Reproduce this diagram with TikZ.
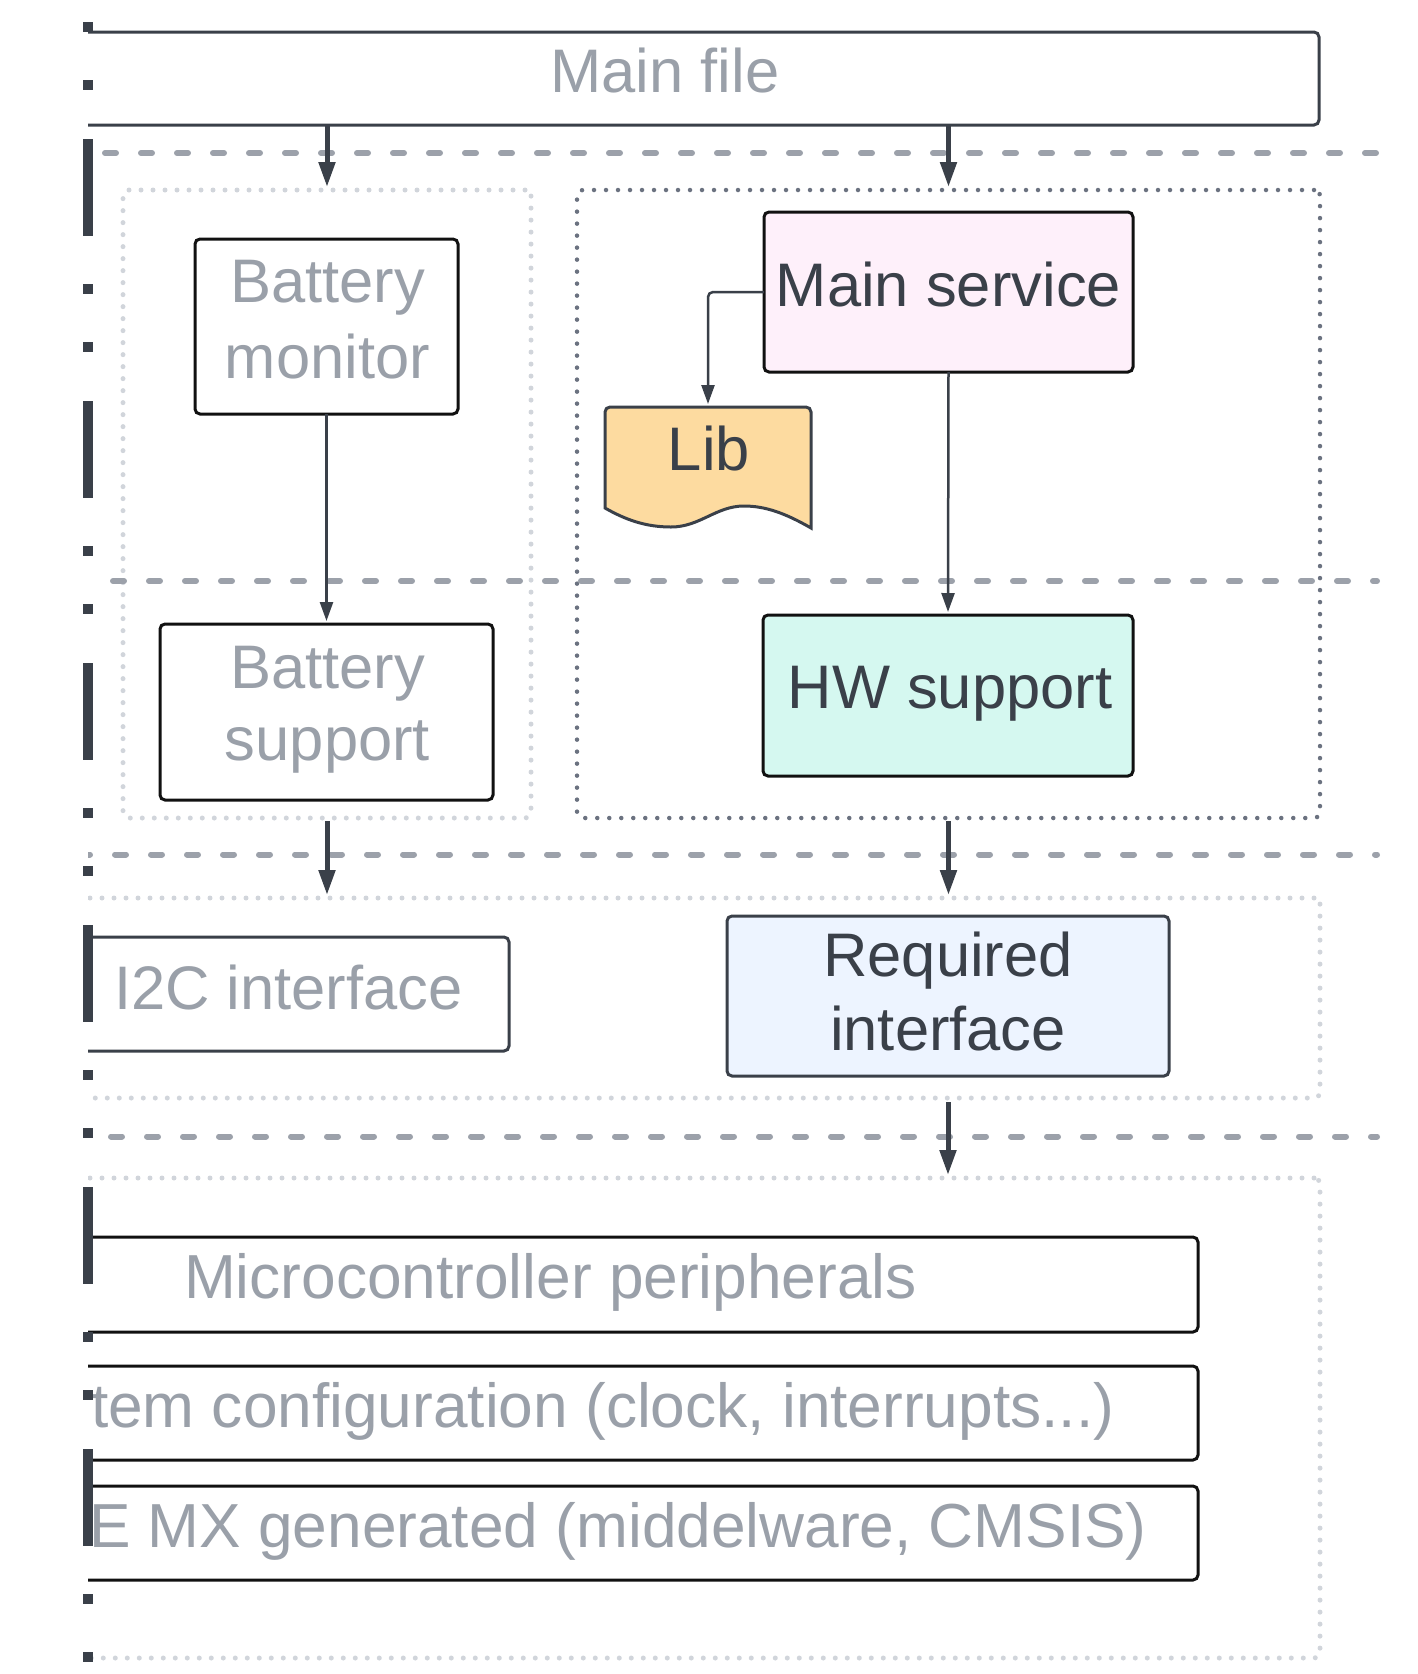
\documentclass[tikz,border=0pt]{standalone}
\usepackage{fontspec}
\setmainfont{Liberation Sans}
\usetikzlibrary{arrows.meta}
\definecolor{ink}{HTML}{3A4049}
\definecolor{graytxt}{HTML}{9AA0A9}
\definecolor{dashgray}{HTML}{9CA1AA}
\definecolor{lightdot}{HTML}{D1D5DB}
\definecolor{darkdot}{HTML}{6B7280}
\definecolor{pinkfill}{HTML}{FEF0FA}
\definecolor{tealfill}{HTML}{D5F8F0}
\definecolor{bluefill}{HTML}{EDF4FF}
\definecolor{libfill}{HTML}{FDDBA0}
\definecolor{boxblack}{HTML}{111111}
\newcommand{\twolines}[3]{\begin{tabular}[t]{@{}c@{}}#1\\[#3]#2\end{tabular}}
\begin{document}
\begin{tikzpicture}[x=1pt,y=-1pt,
  every node/.style={inner sep=0pt, outer sep=0pt},
  box/.style={rectangle, draw=boxblack, line width=3pt, rounded corners=5pt, fill=white},
  inkbox/.style={rectangle, draw=ink, line width=3pt, rounded corners=5pt, fill=white},
  lanelight/.style={rectangle, draw=lightdot, line width=5pt, line cap=round, rounded corners=6pt, dash pattern=on 0pt off 12pt},
  lanedark/.style={rectangle, draw=darkdot, line width=4.5pt, line cap=round, rounded corners=6pt, dash pattern=on 0pt off 12pt},
  sep/.style={draw=dashgray, line width=6pt, line cap=round},
  txt/.style={font=\fontsize{61.5}{72}\selectfont, anchor=base},
  gtxt/.style={txt, text=graytxt},
  dtxt/.style={txt, text=ink},
  widetxt/.style={gtxt, font=\fontsize{62.2}{72}\selectfont, anchor=base west},
  thinarrow/.style={draw=ink, line width=2.5pt, -{Triangle[width=13pt,length=19pt]}, shorten >=3pt},
  thickarrow/.style={draw=ink, line width=5pt, -{Triangle[width=16pt,length=25pt]}, shorten >=3pt},
]
\useasboundingbox (0,0) rectangle (1417,1674);
\begin{scope}
\clip (88,0) rectangle (1417,1674);
% containers
\node[lanelight, minimum width=408pt, minimum height=628pt] (cl) at (327,504) {};
\node[lanedark, minimum width=743pt, minimum height=628pt] (cr) at (948.5,504) {};
\node[lanelight, minimum width=1280pt, minimum height=200pt] (l3) at (680,998) {};
\node[lanelight, minimum width=1280pt, minimum height=480pt] (l4) at (680,1418) {};
% separators
\coordinate (s1a) at (88,153); \coordinate (s1b) at (1377,153);
\coordinate (s2a) at (88,581); \coordinate (s2b) at (1377,581);
\coordinate (s3a) at (88,854.5); \coordinate (s3b) at (1377,854.5);
\coordinate (s4a) at (88,1136.5); \coordinate (s4b) at (1377,1136.5);
\draw[sep, dash pattern=on 11pt off 25pt, dash phase=19pt] (s1a) -- (s1b);
\draw[sep, dash pattern=on 11pt off 25pt, dash phase=11pt] (s2a) -- (s2b);
\draw[sep, dash pattern=on 11pt off 25pt, dash phase=9pt] (s3a) -- (s3b);
\draw[sep, dash pattern=on 11pt off 25pt, dash phase=13pt] (s4a) -- (s4b);
% boxes
\node[inkbox, minimum width=1310pt, minimum height=93pt] (mf) at (664,78.5) {};
\node[gtxt] (mft) at (665,92) {Main file};
\node[box, minimum width=263pt, minimum height=175pt] (bm) at (326.5,326.5) {};
\node[gtxt] (bmt) at (327.5,302) {\twolines{Battery}{monitor}{4pt}};
\node[box, minimum width=333pt, minimum height=176pt] (bs) at (326.5,712) {};
\node[gtxt] (bst) at (327.5,688) {\twolines{Battery}{support}{0pt}};
\node[box, fill=pinkfill, minimum width=369pt, minimum height=160pt] (ms) at (948.5,292) {};
\node[dtxt] (mst) at (948.5,306) {Main service};
\draw[draw=ink, fill=libfill, line width=3pt] (605,508) [rounded corners=5pt] -- (605,407) -- (811,407) [sharp corners] -- (811,528)
  .. controls (785,513) and (765,506) .. (744,506)
  .. controls (716,506) and (700,527) .. (671,527)
  .. controls (646,527) and (626,520) .. (605,508) -- cycle;
\node[minimum width=206pt, minimum height=121pt] (lib) at (708,467.5) {};
\node[dtxt] (libt) at (709,470) {Lib};
\node[box, fill=tealfill, minimum width=370pt, minimum height=161pt] (hw) at (948,695.5) {};
\node[dtxt] (hwt) at (950,708) {HW support};
\node[inkbox, fill=bluefill, minimum width=442pt, minimum height=160pt] (ri) at (948,996) {};
\node[dtxt] (rit) at (948,976) {\twolines{Required}{interface}{2pt}};
\node[inkbox, minimum width=442pt, minimum height=114pt] (i2c) at (288,994) {};
\node[gtxt, anchor=base west] (i2ct) at (114,1009) {I2C interface};
\node[box, minimum width=1297pt, minimum height=95pt] (mcp) at (549.5,1284.5) {};
\node[widetxt] (mcpt) at (184,1298) {Microcontroller peripherals};
\node[box, minimum width=1198pt, minimum height=94pt] (sys) at (599,1413) {};
\node[widetxt] (syst) at (91,1427) {tem configuration (clock, interrupts...)};
\node[box, minimum width=1198pt, minimum height=94pt] (cube) at (599,1533) {};
\node[widetxt] (cubet) at (89,1547) {E MX generated (middelware, CMSIS)};
% connectors
\draw[thickarrow] (mf.south -| cl.north) -- (cl.north);
\draw[thickarrow] (mf.south -| cr.north) -- (cr.north);
\draw[thinarrow] (bm.south) -- (bs.north);
\draw[thinarrow, rounded corners=5pt] (ms.west) -| (lib.north);
\draw[thinarrow] (ms.south) -- (hw.north);
\draw[thickarrow, shorten <=3pt] (cl.south) -- (cl.south |- l3.north);
\draw[thickarrow, shorten <=3pt] (cr.south) -- (cr.south |- l3.north);
\draw[thickarrow, shorten <=4pt] (l3.south -| ri.south) -- (l4.north -| ri.south);
\end{scope}
% left edge dash-dot bar
\coordinate (ea) at (88,22);
\coordinate (eb) at (88,1662);
\draw[ink, line width=10pt, dash pattern=on 10pt off 48pt on 10pt off 49pt on 97pt off 48pt] (ea) -- (eb);
\end{tikzpicture}
\end{document}
